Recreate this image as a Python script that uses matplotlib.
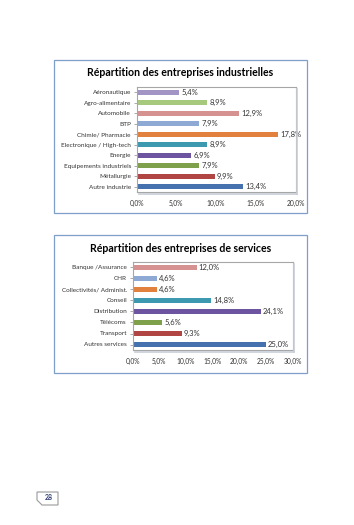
import matplotlib
matplotlib.use("Agg")
import matplotlib.pyplot as plt
from matplotlib.patches import Rectangle, Polygon

# data
industries = ['Aéronautique', 'Agro-alimentaire', 'Automobile', 'BTP',
              'Chimie/ Pharmacie', 'Electronique / High-tech', 'Energie',
              'Equipements industriels', 'Métallurgie', 'Autre industrie']
ind_vals = [5.4, 8.9, 12.9, 7.9, 17.8, 8.9, 6.9, 7.9, 9.9, 13.4]
ind_ticks = [0, 5, 10, 15, 20]

services = ['Banque /Assurance', 'CHR', 'Collectivités/ Administ.', 'Conseil',
            'Distribution', 'Télécoms', 'Transport', 'Autres services']
serv_vals = [12.0, 4.6, 4.6, 14.8, 24.1, 5.6, 9.3, 25.0]
serv_ticks = [0, 5, 10, 15, 20, 25, 30]

ind_colors = ['#A294C4', '#A6C97D', '#D69291', '#8EA9D4', '#E2813D',
              '#3C99B0', '#6D54A0', '#7FA04A', '#B04543', '#4572AE']
serv_colors = ['#D69291', '#8EA9D4', '#E2813D', '#3C99B0',
               '#6D54A0', '#7FA04A', '#B04543', '#4572AE']

W, H = 354, 525
plt.rcParams['font.family'] = ['Lato', 'DejaVu Sans']

fig = plt.figure(figsize=(W / 100, H / 100), dpi=100)
fig.patch.set_facecolor('white')


def px_rect(x0, y0, x1, y1):
    # pixel box (top-left origin) -> figure fraction [l, b, w, h]
    return [x0 / W, 1 - y1 / H, (x1 - x0) / W, (y1 - y0) / H]


def frame(x0, y0, x1, y1):
    l, b, w, h = px_rect(x0, y0, x1, y1)
    fig.patches.append(Rectangle((l, b), w, h, transform=fig.transFigure,
                                 fill=False, edgecolor='#7F9FCB', lw=0.9))


def chart(box, cats, vals, colors, ticks, title, title_y, outer):
    frame(*outer)
    fig.text(0.51, 1 - title_y / H, title, ha='center', va='center',
             fontsize=7.6, fontweight='bold', color='black')
    ax = fig.add_axes(px_rect(*box))
    y = list(range(len(cats)))
    ax.barh(y, vals, height=0.45, color=colors)
    for yi, v in zip(y, vals):
        ax.text(v + ticks[-1] * 0.012, yi, f"{v:.1f}%".replace('.', ','),
                va='center', ha='left', fontsize=5.5, color='#333333')
    ax.set_ylim(len(cats) - 0.5, -0.5)
    ax.set_xlim(ticks[0], ticks[-1])
    ax.set_yticks(y)
    ax.set_yticklabels(cats, fontsize=4.6, color='#333333')
    ax.set_xticks(ticks)
    ax.set_xticklabels([f"{t:.1f}%".replace('.', ',') for t in ticks],
                       fontsize=4.8, color='#333333')
    ax.tick_params(axis='x', length=0, pad=5.5)
    ax.tick_params(axis='y', length=2, width=0.5, color='#888888', pad=2)
    for s in ax.spines.values():
        s.set_color('#A6A6A6')
        s.set_linewidth(0.8)
    # soft shadow on right and bottom of the plot area
    l, b, w, h = px_rect(*box)
    fig.add_artist(plt.Line2D([l + w + 1.5 / W] * 2, [b - 1.5 / H, b + h - 2 / H],
                              transform=fig.transFigure, color='#C8CDD6', lw=1.2))
    fig.add_artist(plt.Line2D([l + 2 / W, l + w + 1.5 / W], [b - 1.5 / H] * 2,
                              transform=fig.transFigure, color='#C8CDD6', lw=1.2))
    return ax


chart((136.5, 87, 295.5, 192), industries, ind_vals, ind_colors, ind_ticks,
      'Répartition des entreprises industrielles', 72, (54, 60, 307, 213))
chart((132.5, 262, 292.5, 350), services, serv_vals, serv_colors, serv_ticks,
      'Répartition des entreprises de services', 249, (54, 235, 307, 373))

# page number tab
pts = [(37, 492), (58, 492), (58, 505), (42, 505), (37, 500)]
fig.patches.append(Polygon([(x / W, 1 - yy / H) for x, yy in pts], closed=True,
                           transform=fig.transFigure, facecolor='white',
                           edgecolor='#9A9A9A', lw=0.8))
fig.text(48.5 / W, 1 - 498 / H, '28', ha='center', va='center',
         fontsize=5, fontweight='bold', color='#2E3F74')

fig.savefig('out.png', dpi=100)
